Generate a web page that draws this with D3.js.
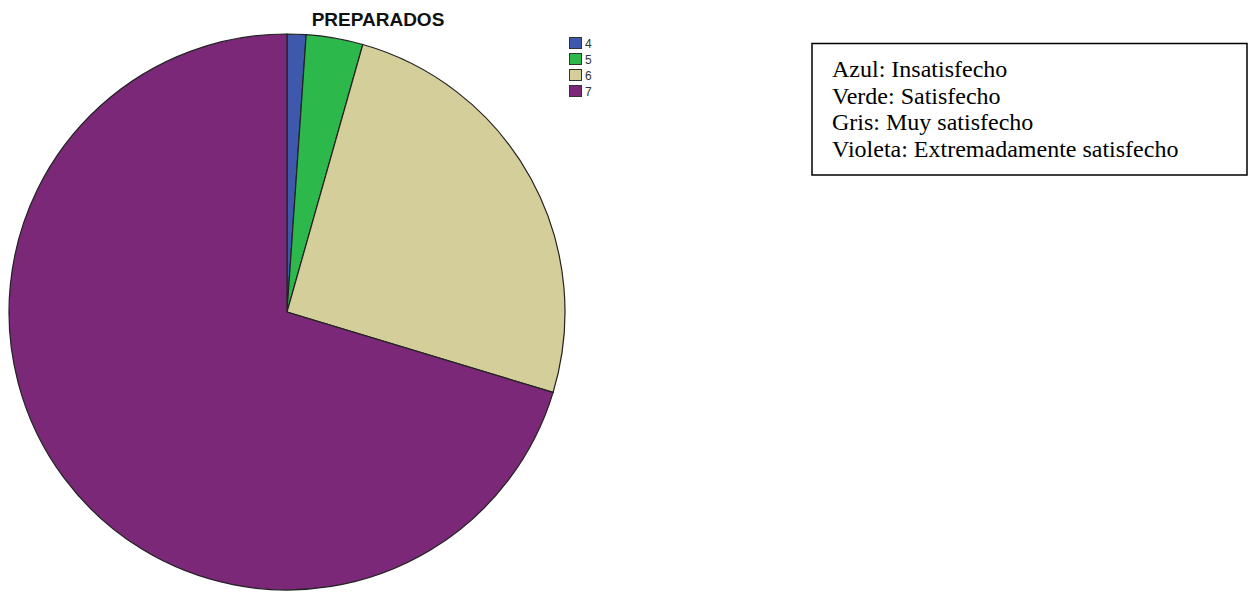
<!DOCTYPE html>
<html><head><meta charset="utf-8">
<script src="https://cdn.jsdelivr.net/npm/d3@7"></script>
<style>body{margin:0;background:#fff}</style>
</head><body>
<svg id="c" width="1251" height="594"></svg>
<script>
const categories = ["4", "5", "6", "7"];
const values = [1, 3, 23, 64];
const colors = ["#3e58ac", "#2db84c", "#d3ce9a", "#7b2878"];
const title = "PREPARADOS";
const noteLines = ["Azul: Insatisfecho", "Verde: Satisfecho", "Gris: Muy satisfecho", "Violeta: Extremadamente satisfecho"];

const svg = d3.select("#c");
const cx = 287, cy = 312, r = 278;
const data = categories.map((c, i) => ({cat: c, v: values[i], col: colors[i]}));
const pie = d3.pie().value(d => d.v).sort(null);
const arc = d3.arc().innerRadius(0).outerRadius(r);
svg.append("g").attr("transform", `translate(${cx},${cy})`)
  .selectAll("path").data(pie(data)).join("path")
  .attr("d", arc).attr("fill", d => d.data.col)
  .attr("stroke", "#222").attr("stroke-width", 1.2);

svg.append("text").attr("x", 378).attr("y", 26).attr("text-anchor", "middle")
  .attr("font-family", "Arial, Liberation Sans, sans-serif").attr("font-weight", "bold")
  .attr("font-size", 19).attr("fill", "#111").text(title);

const lg = svg.append("g").attr("transform", "translate(569,37)");
const li = lg.selectAll("g").data(data).join("g").attr("transform", (d, i) => `translate(0,${i * 16})`);
li.append("rect").attr("x", 0.5).attr("y", 0.5).attr("width", 12).attr("height", 11).attr("fill", d => d.col).attr("stroke", "#333").attr("stroke-width", 1);
li.append("text").attr("x", 16).attr("y", 10.5).attr("font-family", "Arial, Liberation Sans, sans-serif")
  .attr("font-size", 12).attr("fill", "#333").text(d => d.cat);

svg.append("rect").attr("x", 812).attr("y", 43.5).attr("width", 435).attr("height", 131.5)
  .attr("fill", "none").attr("stroke", "#000").attr("stroke-width", 1.5);
svg.append("g").selectAll("text").data(noteLines).join("text")
  .attr("x", 832).attr("y", (d, i) => 77 + i * 26.7)
  .attr("font-family", "Liberation Serif, Times New Roman, serif").attr("font-size", 24)
  .attr("fill", "#000").text(d => d);
</script>
</body></html>
